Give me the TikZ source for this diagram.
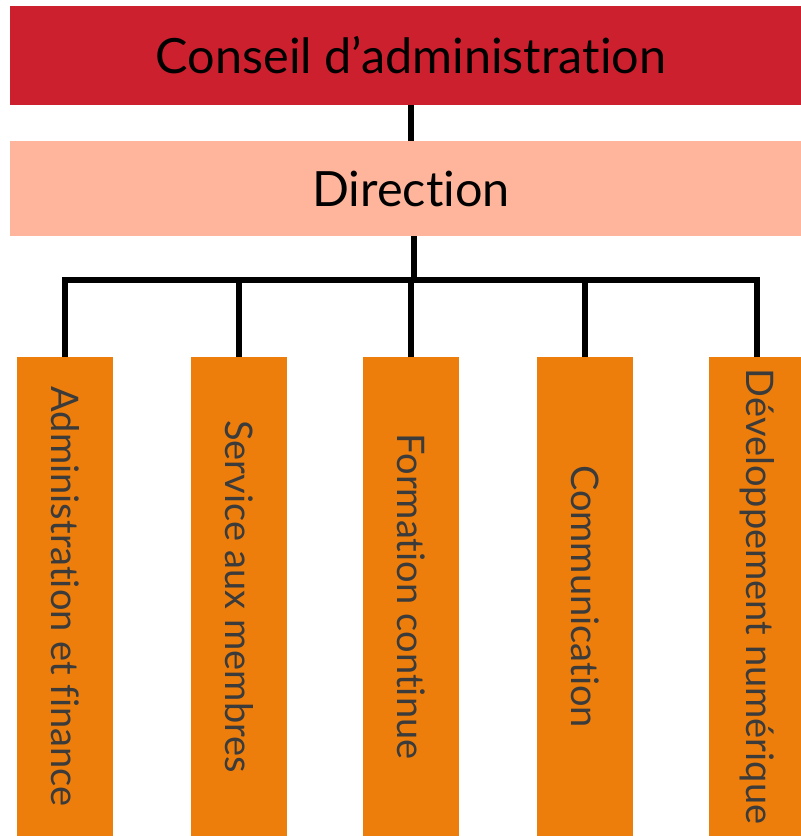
\documentclass[tikz,border=0pt]{standalone}
\usepackage{fontspec}
\setmainfont{Lato}[Ligatures={NoCommon,NoContextual,NoRequired}]
\usepackage{graphicx}
\usepackage{xcolor}

\definecolor{conseilred}{RGB}{205,32,47}
\definecolor{directionpink}{RGB}{255,181,156}
\definecolor{serviceorange}{RGB}{237,126,12}
\definecolor{servicetext}{RGB}{59,59,59}

\begin{document}
\begin{tikzpicture}[x=1pt, y=-1pt,
		topbox/.style={minimum width=802pt, inner sep=0pt, font=\fontsize{48.6}{52}\selectfont},
		servicebox/.style={fill=serviceorange, minimum width=96pt, minimum height=479pt,
			inner sep=0pt, text=servicetext, font=\fontsize{38}{42}\selectfont},
		link/.style={line width=5.5pt}]
		\clip (0,0) rectangle (801,836);

		\node[topbox, fill=conseilred,    minimum height=99pt] (conseil)   at (411, 55.5)  {Conseil d’administration};
		\node[topbox, fill=directionpink, minimum height=95pt] (direction) at (411, 188.5) {Direction};

		\foreach \n/\x/\txt in {admin/65/Administration et finance,
				membres/239/Service aux membres,
				formation/411/Formation continue,
				comm/585/Communication,
				numerique/757/Développement numérique}
			\node[servicebox] (\n) at (\x, 596.5) {\rotatebox{-90}{\txt}};

		\coordinate (bus) at (414, 280);

		\draw[link] (conseil) -- (direction);
		\draw[link] ([xshift=3pt]direction.south) -- (bus);

		\draw[link] (admin.north) -- (admin.north |- bus) -- (numerique.north |- bus) -- (numerique.north);
		\foreach \n in {membres, formation, comm}
			\draw[link] (\n.north |- bus) -- (\n.north);
	\end{tikzpicture}
\end{document}
